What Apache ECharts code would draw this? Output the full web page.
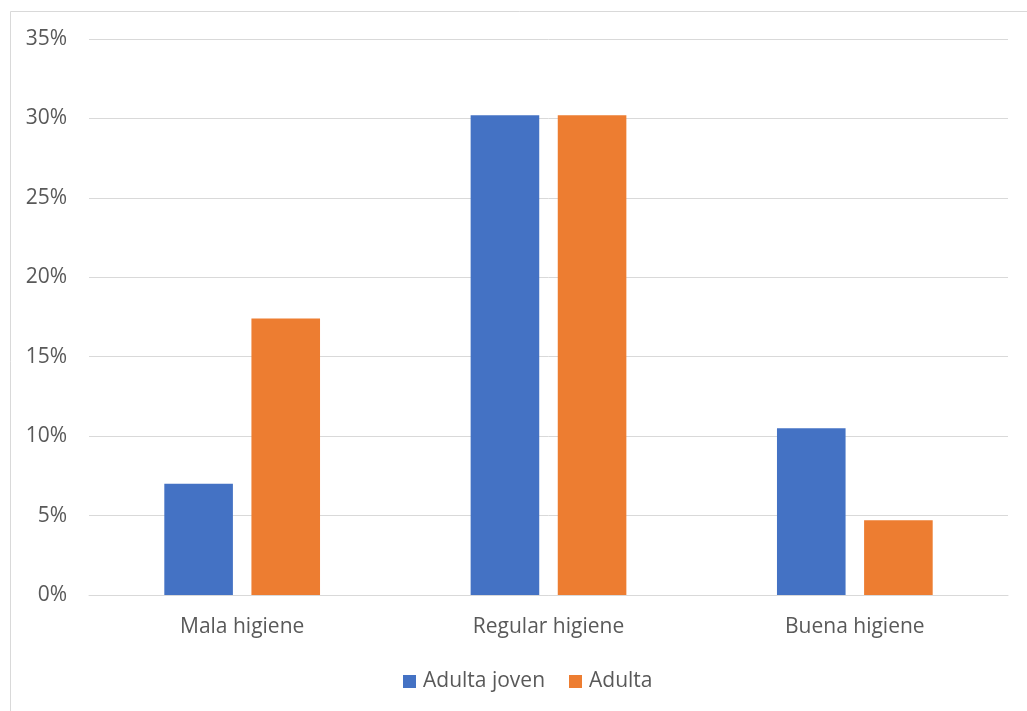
<!DOCTYPE html>
<html><head><meta charset="utf-8">
<script src="https://cdn.jsdelivr.net/npm/echarts@6/dist/echarts.min.js"></script>
<style>html,body{margin:0;padding:0;background:#fff}#c{width:1027px;height:711px}</style>
</head><body><div id="c"></div>
<script>
const categories = ['Mala higiene', 'Regular higiene', 'Buena higiene'];
const adultaJoven = [7.0, 30.2, 10.5];
const adulta = [17.4, 30.2, 4.7];
const seriesNames = ['Adulta joven', 'Adulta'];
const textColor = '#595959';
const font = '"Open Sans", "DejaVu Sans", sans-serif';
const fs = 21;
const chart = echarts.init(document.getElementById('c'), null, {renderer: 'canvas'});
chart.setOption({
  animation: false,
  backgroundColor: '#fff',
  graphic: [{
    type: 'rect', left: 8, top: 9, silent: true,
    shape: {x: 0.5, y: 0.5, width: 1040, height: 720},
    style: {fill: 'none', stroke: '#d9d9d9', lineWidth: 1}
  }],
  grid: {left: 89, right: 19, top: 39, bottom: 116, containLabel: false},
  legend: {
    left: 398, top: 666, itemWidth: 13, itemHeight: 13, itemGap: 24,
    icon: 'rect',
    textStyle: {color: textColor, fontSize: fs, fontFamily: font, padding: [0, 0, 0, 2]},
    data: seriesNames
  },
  xAxis: {
    type: 'category', data: categories,
    axisLine: {show: true, lineStyle: {color: '#d9d9d9', width: 1}},
    axisTick: {show: false},
    axisLabel: {color: textColor, fontSize: fs, fontFamily: font, margin: 22}
  },
  yAxis: {
    type: 'value', min: 0, max: 35, interval: 5,
    axisLine: {show: false}, axisTick: {show: false},
    splitLine: {lineStyle: {color: '#d9d9d9', width: 1}},
    axisLabel: {color: textColor, fontSize: fs, fontFamily: font, margin: 22, formatter: '{value}%'}
  },
  series: [
    {name: seriesNames[0], type: 'bar', data: adultaJoven, barWidth: 68.6, barGap: '27%',
     itemStyle: {color: '#4472C4'}},
    {name: seriesNames[1], type: 'bar', data: adulta, barWidth: 68.6,
     itemStyle: {color: '#ED7D31'}}
  ]
});
</script></body></html>
